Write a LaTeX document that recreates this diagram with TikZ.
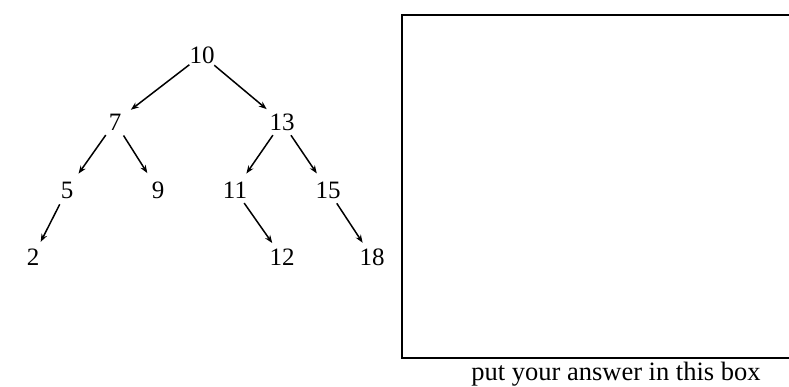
\documentclass[tikz,border=0pt]{standalone}
\usepackage{fontspec}
\setmainfont{Liberation Serif}
\usetikzlibrary{arrows.meta}
\begin{document}
\begin{tikzpicture}[x=1pt,y=-1pt,
  num/.style={inner sep=0pt,font=\fontsize{25}{25}\selectfont},
  edge/.style={line width=1.5pt,-{Stealth[length=8pt,width=6pt]},shorten <=16pt,shorten >=20pt},
  answerbox/.style={line width=2pt}]
\useasboundingbox (0,0) rectangle (789,387);
\clip (0,0) rectangle (789,387);
\node[num] (n10) at (202,55) {10};
\node[num] (n7) at (115,122) {7};
\node[num] (n13) at (282,122) {13};
\node[num] (n5) at (67,190) {5};
\node[num] (n9) at (158,190) {9};
\node[num] (n11) at (235,190) {11};
\node[num] (n15) at (328,190) {15};
\node[num] (n2) at (33,257) {2};
\node[num] (n12) at (282,257) {12};
\node[num] (n18) at (372,257) {18};
\draw[edge] (n10.center) -- (n7.center);
\draw[edge] (n10.center) -- (n13.center);
\draw[edge] (n7.center) -- (n5.center);
\draw[edge] (n7.center) -- (n9.center);
\draw[edge] (n13.center) -- (n11.center);
\draw[edge] (n13.center) -- (n15.center);
\draw[edge,shorten >=17pt] (n5.center) -- (n2.center);
\draw[edge,shorten >=17pt] (n11.center) -- (n12.center);
\draw[edge,shorten >=17pt] (n15.center) -- (n18.center);
\draw[answerbox] (402,15) rectangle (795,358);
\node[inner sep=0pt,font=\fontsize{26.5}{26.5}\selectfont] (cap) at (616,374) {put your answer in this box};
\end{tikzpicture}
\end{document}
